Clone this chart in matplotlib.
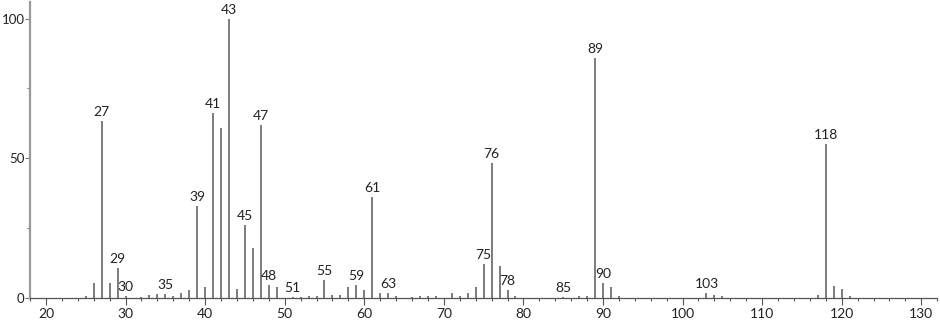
import numpy as np
import matplotlib
matplotlib.use("Agg")
import matplotlib.pyplot as plt
from matplotlib.ticker import MultipleLocator

# mass spectrum, m/z vs relative intensity
mz = [25, 26, 27, 28, 29, 30, 32, 33, 34, 35, 36, 37, 38, 39, 40,
      41, 42, 43, 44, 45, 46, 47, 48, 49, 51, 52, 53, 54, 55, 56,
      57, 58, 59, 60, 61, 62, 63, 64, 66, 67, 68, 69, 71, 72, 73,
      74, 75, 76, 77, 78, 79, 85, 87, 88, 89, 90, 91, 92, 103, 104,
      105, 117, 118, 119, 120, 121]
intensity = [0.7, 5.3, 63.4, 5.3, 10.6, 0.8, 0.5, 1.0, 1.3, 1.5, 0.7, 1.6, 2.9, 33.0, 3.8,
             66.4, 60.7, 100.0, 3.2, 26.2, 17.8, 62.0, 4.7, 3.8, 0.5, 0.5, 0.7, 0.7, 6.4, 1.0,
             1.0, 3.8, 4.8, 2.9, 36.1, 1.8, 1.9, 0.7, 0.5, 0.6, 0.7, 0.7, 1.7, 0.6, 1.9,
             3.8, 12.2, 48.3, 11.5, 2.9, 0.7, 0.5, 0.7, 0.7, 85.9, 5.3, 4.0, 0.7, 1.9, 1.0,
             0.8, 1.0, 55.1, 4.3, 3.1, 0.7]
labelled = [27, 29, 30, 35, 39, 41, 43, 45, 47, 48, 51, 55, 59, 61, 63,
            75, 76, 78, 85, 89, 90, 103, 118]

plt.rcParams['font.family'] = ['Lato', 'DejaVu Sans']

fig = plt.figure(figsize=(9.4, 3.2), dpi=100)
ax = fig.add_axes([0.032, 0.069, 0.965, 0.925])

ax.vlines(mz, 0, intensity, colors='#666666', linewidth=1.2)

for m, h in zip(mz, intensity):
    if m in labelled:
        ax.annotate(str(m), (m, h), xytext=(0, 3.5), textcoords='offset points',
                    ha='center', va='baseline', fontsize=10, color='#222222')

ax.set_xlim(18, 132)
ax.set_ylim(0, 106)
ax.xaxis.set_major_locator(MultipleLocator(10))
ax.xaxis.set_minor_locator(MultipleLocator(2))
ax.yaxis.set_major_locator(MultipleLocator(50))
ax.yaxis.set_minor_locator(MultipleLocator(25))

for s in ['top', 'right']:
    ax.spines[s].set_visible(False)
ax.spines['left'].set_color('#999999')
ax.spines['left'].set_linewidth(1.6)
ax.spines['bottom'].set_color('#555555')
ax.spines['bottom'].set_linewidth(0.9)

ax.tick_params(axis='x', which='major', length=5, width=0.8, color='#555555',
               labelsize=10, labelcolor='#222222', pad=2)
ax.tick_params(axis='x', which='minor', length=2.5, width=0.8, color='#555555')
ax.tick_params(axis='y', which='major', length=3.5, width=0.8, color='#777777',
               labelsize=9.5, labelcolor='#222222', pad=0.5)
ax.tick_params(axis='y', which='minor', length=2, width=0.8, color='#777777')

fig.savefig('out.png', dpi=100)
